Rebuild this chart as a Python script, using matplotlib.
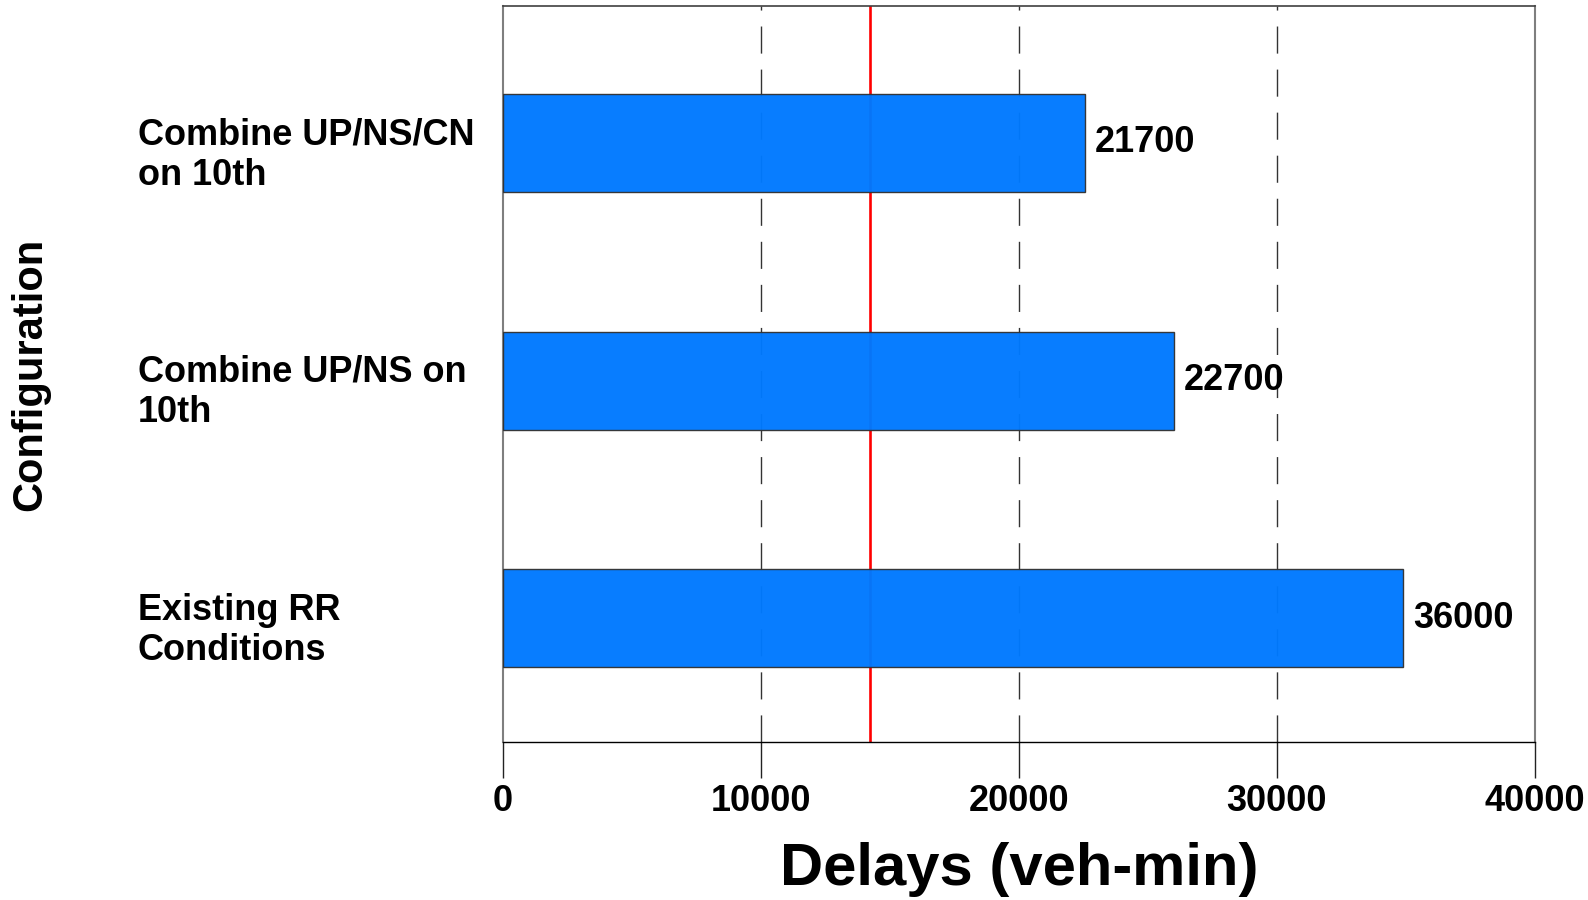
import matplotlib
matplotlib.use("Agg")
import matplotlib.pyplot as plt
import matplotlib.transforms as mtransforms

# ── Data ─────────────────────────────────────────────────────────
configs = ["Existing RR\nConditions",
           "Combine UP/NS on\n10th",
           "Combine UP/NS/CN\non 10th"]
delays = [34900, 26000, 22550]            # bar lengths as drawn
value_labels = ["36000", "22700", "21700"]  # printed numbers
ref_delay = 14230                         # red reference line
x_ticks = [0, 10000, 20000, 30000, 40000]

plt.rcParams['font.family'] = ['Liberation Sans', 'DejaVu Sans']
plt.rcParams['font.weight'] = 'bold'

fig = plt.figure(figsize=(15.88, 9.0), dpi=100)
ax = fig.add_axes([0.3167, 0.1756, 0.6499, 0.8177])

ypos = list(range(len(configs)))

# gridlines (dashed) and reference line sit behind bars
for xt in x_ticks[1:-1]:
    ax.axvline(xt, color='#333333', lw=1.0, dashes=(19.5, 11.5), zorder=1,
               clip_on=False)
ax.axvline(ref_delay, color='#ff0000', lw=1.9, zorder=1)

bars = ax.barh(ypos, delays, height=0.412, color='#0079ff', alpha=0.97,
               edgecolor='#333333', linewidth=1.0, zorder=3)

for b, lbl in zip(bars, value_labels):
    ax.annotate(lbl, xy=(b.get_width(), b.get_y() + b.get_height() / 2),
                xytext=(7, 0), textcoords='offset points',
                ha='left', va='center', fontsize=26, fontweight='bold')

ax.set_xlim(0, 40000)
ax.set_ylim(-0.52, 2.576)
ax.set_xticks(x_ticks)
ax.set_xticklabels([str(v) for v in x_ticks], fontsize=26, fontweight='bold')
ax.tick_params(axis='x', direction='out', length=26, width=1.0,
               color='#222222', pad=4)

ax.set_yticks(ypos)
ax.set_yticklabels(configs, fontsize=26, fontweight='bold')
ax.tick_params(axis='y', length=0, pad=263)
shift = mtransforms.ScaledTranslation(0, -12 / 100, fig.dpi_scale_trans)
for t in ax.get_yticklabels():
    t.set_ha('left')
    t.set_va('center')
    t.set_transform(t.get_transform() + shift)

ax.set_xlabel("Delays (veh-min)", fontsize=43, fontweight='bold', labelpad=17)
ax.set_ylabel("Configuration", fontsize=30, fontweight='bold')

ax.spines['left'].set_color('#7f7f7f')
ax.spines['left'].set_linewidth(1.5)
ax.spines['right'].set_color('#7f7f7f')
ax.spines['right'].set_linewidth(1.5)
ax.spines['top'].set_color('#404040')
ax.spines['top'].set_linewidth(1.2)
ax.spines['bottom'].set_color('#000000')
ax.spines['bottom'].set_linewidth(1.0)

# place the y label near the left figure edge (coords in axes fraction)
ax.yaxis.set_label_coords((50 - 503) / 1032.0, 0.5)

fig.savefig("out.png", dpi=100)
